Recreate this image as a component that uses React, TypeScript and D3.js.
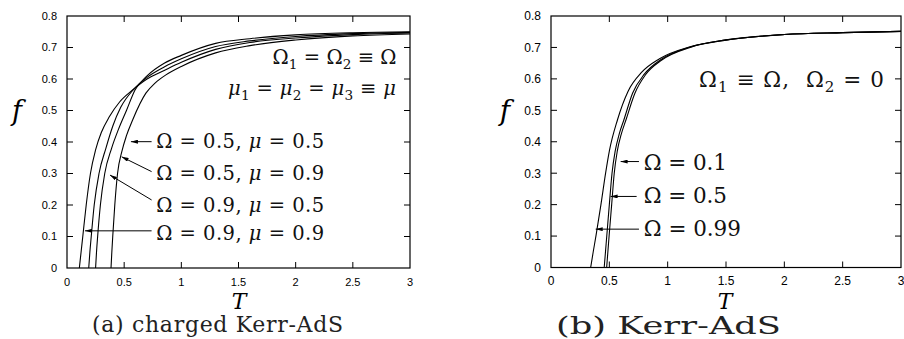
import React, { useEffect, useRef } from "react";
import * as d3 from "d3";

const tTicks = [0, 0.5, 1, 1.5, 2, 2.5, 3];
const fTicks = [0, 0.1, 0.2, 0.3, 0.4, 0.5, 0.6, 0.7, 0.8];

// (a) charged Kerr-AdS, points are [T, f]
const chargedO09m09 = [
  [0.108, 0], [0.123, 0.05], [0.138, 0.1], [0.168, 0.2], [0.205, 0.3], [0.25, 0.375],
  [0.3, 0.43], [0.37, 0.48], [0.46, 0.527], [0.574, 0.565], [0.7, 0.6], [0.85, 0.627],
  [1.0, 0.653], [1.3, 0.694], [1.6, 0.716], [2.0, 0.73], [2.5, 0.741], [3.0, 0.746],
];
const chargedO09m05 = [
  [0.19, 0], [0.2, 0.05], [0.212, 0.1], [0.238, 0.2], [0.28, 0.3], [0.34, 0.38],
  [0.4, 0.45], [0.47, 0.51], [0.585, 0.568], [0.7, 0.605], [0.85, 0.638], [1.0, 0.664],
  [1.3, 0.703], [1.6, 0.721], [2.0, 0.735], [2.5, 0.744], [3.0, 0.748],
];
const chargedO05m09 = [
  [0.25, 0], [0.258, 0.05], [0.268, 0.1], [0.292, 0.2], [0.33, 0.3], [0.39, 0.38],
  [0.45, 0.44], [0.52, 0.5], [0.595, 0.565], [0.7, 0.61], [0.85, 0.65], [1.0, 0.675],
  [1.3, 0.713], [1.6, 0.728], [2.0, 0.74], [2.5, 0.747], [3.0, 0.75],
];
const chargedO05m05 = [
  [0.385, 0], [0.392, 0.05], [0.4, 0.1], [0.418, 0.2], [0.442, 0.3], [0.48, 0.37],
  [0.52, 0.42], [0.574, 0.47], [0.69, 0.555], [0.77, 0.587], [0.865, 0.613], [1.0, 0.64],
  [1.3, 0.683], [1.6, 0.706], [2.0, 0.724], [2.5, 0.737], [3.0, 0.743],
];

// (b) Kerr-AdS
const kerrO099 = [
  [0.34, 0], [0.362, 0.05], [0.385, 0.1], [0.428, 0.2], [0.468, 0.3], [0.5, 0.37],
  [0.57, 0.47], [0.66, 0.56], [0.78, 0.622], [0.93, 0.664], [1.2, 0.703], [1.5, 0.724],
  [2.0, 0.741], [2.5, 0.747], [3.0, 0.751],
];
const kerrO05 = [
  [0.456, 0], [0.478, 0.1], [0.5, 0.2], [0.523, 0.3], [0.55, 0.37], [0.585, 0.425],
  [0.625, 0.47], [0.7, 0.555], [0.8, 0.615], [0.94, 0.661], [1.2, 0.702], [1.5, 0.724],
  [2.0, 0.741], [2.5, 0.747], [3.0, 0.751],
];
const kerrO01 = [
  [0.477, 0], [0.498, 0.1], [0.52, 0.2], [0.542, 0.3], [0.568, 0.37], [0.603, 0.425],
  [0.643, 0.47], [0.72, 0.555], [0.81, 0.613], [0.95, 0.66], [1.2, 0.701], [1.5, 0.723],
  [2.0, 0.741], [2.5, 0.747], [3.0, 0.751],
];

const O = { t: "\u03A9" };
const MU = { t: "\u03BC", i: true };
const sub = (t) => ({ t, sub: true });

const panelA = {
  left: 67, right: 410, top: 16, bottom: 268,
  tickSize: 11, tickBaseline: 286,
  series: [chargedO09m09, chargedO09m05, chargedO05m09, chargedO05m05],
  fLabel: { x: 17, y: 120, size: 27 },
  tLabel: { x: 239, y: 309, size: 22 },
  caption: { text: "(a) charged Kerr-AdS", x: 92, y: 332, size: 22, width: 251, adjust: "spacing" },
  headers: [
    { parts: [O, sub("1"), { t: " = " }, O, sub("2"), { t: " \u2261 " }, O], x: 396.5, y: 64, size: 19.5, width: 124 },
    { parts: [MU, sub("1"), { t: " = " }, MU, sub("2"), { t: " = " }, MU, sub("3"), { t: " \u2261 " }, MU], x: 396, y: 95, size: 19.5, width: 168 },
  ],
  notes: [
    { parts: [O, { t: " = 0.5, " }, MU, { t: " = 0.5" }], text: [0.78, 0.381], tail: [0.74, 0.401], tip: [0.559, 0.401], size: 19.5, width: 168 },
    { parts: [O, { t: " = 0.5, " }, MU, { t: " = 0.9" }], text: [0.78, 0.279], tail: [0.74, 0.306], tip: [0.478, 0.353], size: 19.5, width: 168 },
    { parts: [O, { t: " = 0.9, " }, MU, { t: " = 0.5" }], text: [0.78, 0.179], tail: [0.74, 0.216], tip: [0.376, 0.295], size: 19.5, width: 168 },
    { parts: [O, { t: " = 0.9, " }, MU, { t: " = 0.9" }], text: [0.78, 0.089], tail: [0.74, 0.118], tip: [0.157, 0.118], size: 19.5, width: 168 },
  ],
};

const panelB = {
  left: 551, right: 901, top: 16, bottom: 267.5,
  tickSize: 12, tickBaseline: 285,
  series: [kerrO099, kerrO05, kerrO01],
  fLabel: { x: 505, y: 120, size: 28 },
  tLabel: { x: 725, y: 309, size: 22 },
  caption: { text: "(b) Kerr-AdS", x: 556, y: 333.5, size: 24, width: 225, adjust: "spacingAndGlyphs" },
  headers: [
    { parts: [O, sub("1"), { t: " \u2261 " }, O, { t: ",  " }, O, sub("2"), { t: " = 0" }], x: 884, y: 86.7, size: 21.5, width: 185 },
  ],
  notes: [
    { parts: [O, { t: " = 0.1" }], text: [0.796, 0.311], tail: [0.754, 0.337], tip: [0.597, 0.337], size: 21.5, width: 83 },
    { parts: [O, { t: " = 0.5" }], text: [0.796, 0.205], tail: [0.734, 0.226], tip: [0.511, 0.226], size: 21.5, width: 83 },
    { parts: [O, { t: " = 0.99" }], text: [0.796, 0.1], tail: [0.754, 0.122], tip: [0.383, 0.122], size: 21.5, width: 97 },
  ],
};

const serif = "'DejaVu Serif', serif";
const sans = "'Liberation Sans', Arial, sans-serif";

function mathText(g, parts, x, y, size, width, anchor) {
  const t = g.append("text")
    .attr("x", x).attr("y", y)
    .attr("font-family", serif)
    .attr("font-size", size)
    .attr("text-anchor", anchor)
    .attr("textLength", width)
    .attr("lengthAdjust", "spacing")
    .style("white-space", "pre")
    .attr("fill", "#111");
  let low = false;
  const shift = size * 0.25;
  parts.forEach(p => {
    const s = t.append("tspan").text(p.t);
    if (p.i) s.attr("font-style", "italic");
    if (p.sub) {
      s.attr("font-size", size * 0.7);
      if (!low) s.attr("dy", shift);
      low = true;
    } else if (low) {
      s.attr("dy", -shift);
      low = false;
    }
  });
}

function drawPanel(svg, p, idx) {
  const x = d3.scaleLinear().domain([0, 3]).range([p.left, p.right]);
  const y = d3.scaleLinear().domain([0, 0.8]).range([p.bottom, p.top]);
  const g = svg.append("g");

  g.append("clipPath").attr("id", "clip" + idx)
    .append("rect")
    .attr("x", p.left).attr("y", p.top)
    .attr("width", p.right - p.left).attr("height", p.bottom - p.top);

  // ticks point inward on all four sides
  const ticks = g.append("g").attr("stroke", "#000").attr("stroke-width", 1);
  fTicks.slice(1, -1).forEach(v => {
    ticks.append("line").attr("x1", p.left).attr("x2", p.left + 6).attr("y1", y(v)).attr("y2", y(v));
    ticks.append("line").attr("x1", p.right).attr("x2", p.right - 6).attr("y1", y(v)).attr("y2", y(v));
  });
  tTicks.slice(1, -1).forEach(v => {
    ticks.append("line").attr("x1", x(v)).attr("x2", x(v)).attr("y1", p.bottom).attr("y2", p.bottom - 6);
    ticks.append("line").attr("x1", x(v)).attr("x2", x(v)).attr("y1", p.top).attr("y2", p.top + 6);
  });

  g.selectAll("text.ylab").data(fTicks).enter().append("text")
    .attr("class", "ylab")
    .attr("x", p.left - 10).attr("y", d => y(d)).attr("dy", "0.36em")
    .attr("text-anchor", "end")
    .attr("font-family", sans)
    .attr("font-size", p.tickSize)
    .text(d => String(d));

  g.selectAll("text.xlab").data(tTicks).enter().append("text")
    .attr("class", "xlab")
    .attr("x", d => x(d)).attr("y", p.tickBaseline)
    .attr("text-anchor", "middle")
    .attr("font-family", sans)
    .attr("font-size", p.tickSize)
    .text(d => String(d));

  const line = d3.line().x(d => x(d[0])).y(d => y(d[1])).curve(d3.curveMonotoneX);
  g.append("g").attr("clip-path", `url(#clip${idx})`)
    .selectAll("path").data(p.series).enter().append("path")
    .attr("d", line)
    .attr("fill", "none")
    .attr("stroke", "#000")
    .attr("stroke-width", 1.1);

  g.append("rect")
    .attr("x", p.left).attr("y", p.top)
    .attr("width", p.right - p.left).attr("height", p.bottom - p.top)
    .attr("fill", "none").attr("stroke", "#000").attr("stroke-width", 1.2);

  p.headers.forEach(h => mathText(g, h.parts, h.x, h.y, h.size, h.width, "end"));

  p.notes.forEach(n => {
    g.append("line")
      .attr("x1", x(n.tail[0])).attr("y1", y(n.tail[1]))
      .attr("x2", x(n.tip[0])).attr("y2", y(n.tip[1]))
      .attr("stroke", "#000").attr("stroke-width", 1)
      .attr("marker-end", "url(#arrow)");
    mathText(g, n.parts, x(n.text[0]), y(n.text[1]), n.size, n.width, "start");
  });

  g.append("text")
    .attr("x", p.fLabel.x).attr("y", p.fLabel.y)
    .attr("text-anchor", "middle")
    .attr("font-family", serif).attr("font-style", "italic")
    .attr("font-size", p.fLabel.size)
    .text("f");

  g.append("text")
    .attr("x", p.tLabel.x).attr("y", p.tLabel.y)
    .attr("text-anchor", "middle")
    .attr("font-family", serif).attr("font-style", "italic")
    .attr("font-size", p.tLabel.size)
    .text("T");

  g.append("text")
    .attr("x", p.caption.x).attr("y", p.caption.y)
    .attr("font-family", serif)
    .attr("font-size", p.caption.size)
    .attr("textLength", p.caption.width)
    .attr("lengthAdjust", p.caption.adjust)
    .attr("fill", "#222")
    .text(p.caption.text);
}

export default function App() {
  const ref = useRef(null);

  useEffect(() => {
    const svg = d3.select(ref.current);
    svg.selectAll("*").remove();

    svg.append("defs").append("marker")
      .attr("id", "arrow")
      .attr("viewBox", "0 0 10 10")
      .attr("refX", 10).attr("refY", 5)
      .attr("markerUnits", "userSpaceOnUse")
      .attr("markerWidth", 7).attr("markerHeight", 4)
      .attr("orient", "auto")
      .attr("preserveAspectRatio", "none")
      .append("path")
      .attr("d", "M0,0 L10,5 L0,10 Z")
      .attr("fill", "#000");

    drawPanel(svg, panelA, 0);
    drawPanel(svg, panelB, 1);
  }, []);

  return (
    <div style={{ position: "absolute", left: 0, top: 0 }}>
      <svg ref={ref} width={904} height={339} style={{ display: "block", background: "#fff" }} />
    </div>
  );
}
